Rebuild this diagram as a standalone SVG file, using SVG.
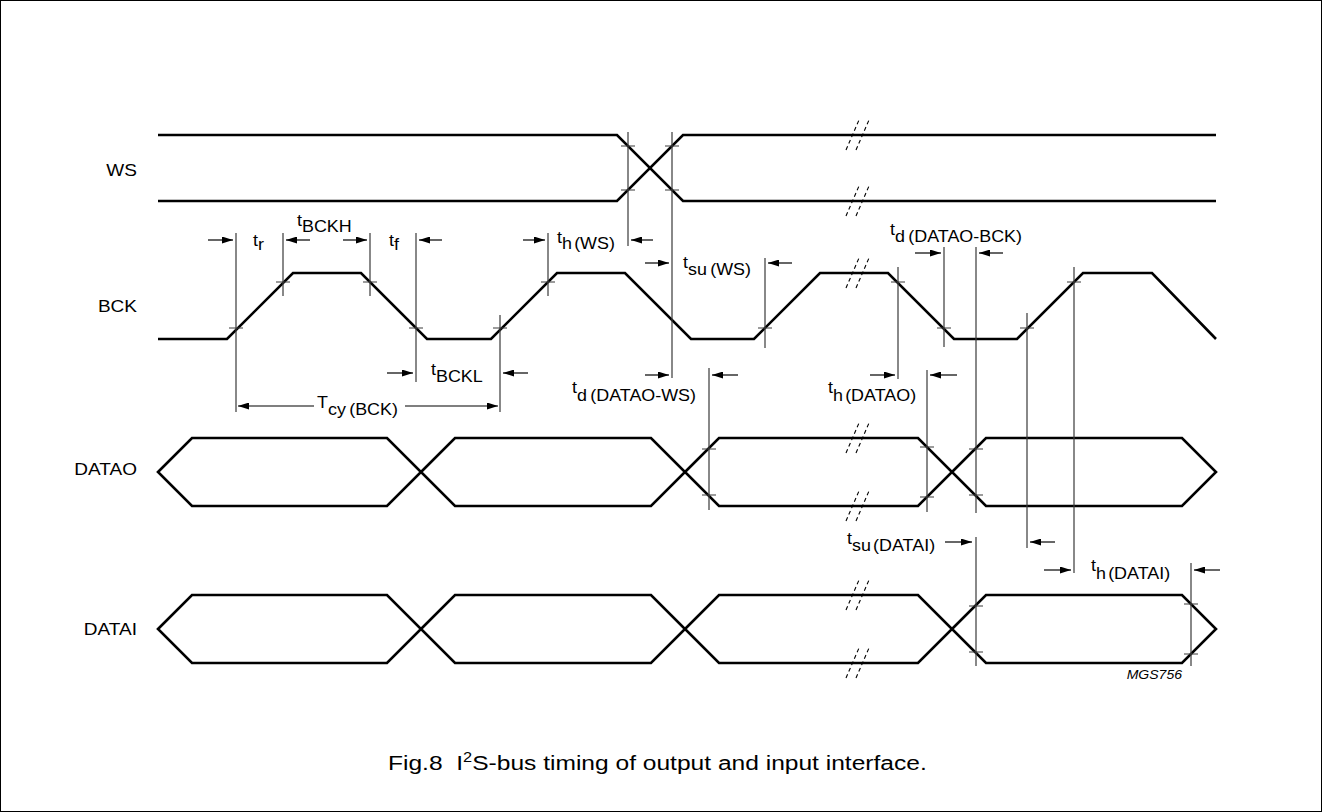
<svg xmlns="http://www.w3.org/2000/svg" width="1322" height="812" viewBox="0 0 1322 812">
<style>
.sig{fill:none;stroke:#000;stroke-width:2.6;stroke-linejoin:miter}
.vl{stroke:#3a3a3a;stroke-width:1.2;fill:none}
.tk{stroke:#3a3a3a;stroke-width:1.2}
.ar{stroke:#000;stroke-width:1.2;fill:none;marker-end:url(#ah)}
.brk{stroke:#000;stroke-width:1.1;stroke-dasharray:4 3;fill:none}
.nm{font-family:"Liberation Sans",Arial,sans-serif;font-size:17px;text-anchor:end;fill:#000}
.tl{font-family:"Liberation Sans",Arial,sans-serif;font-size:16px;fill:#000}
.cap{font-family:"Liberation Sans",Arial,sans-serif;font-size:21px;fill:#000;white-space:pre}
.code{font-family:"Liberation Sans",Arial,sans-serif;font-size:13px;font-style:italic;text-anchor:end;fill:#000}
</style>
<defs>
<marker id="ah" viewBox="0 0 11 7" refX="11" refY="3.5" markerWidth="11" markerHeight="7" markerUnits="userSpaceOnUse" orient="auto">
<path d="M0,0 L11,3.5 L0,7 z" fill="#000"/>
</marker>
</defs>
<rect x="0.5" y="0.5" width="1321" height="811" fill="#fff" stroke="#000" stroke-width="1"/>

<g id="WS">
<text class="nm" transform="translate(137,176) scale(1.12,1)">WS</text>
<path class="sig" d="M158,135 H617 L683,201 H1216"/>
<path class="sig" d="M158,201 H617 L683,135 H1216"/>
</g>

<g id="BCK">
<text class="nm" transform="translate(137,312) scale(1.12,1)">BCK</text>
<path class="sig" d="M158,339 H227 L293,273 H361 L427,339 H491 L557,273 H625 L691,339 H754 L820,273 H888 L954,339 H1017 L1083,273 H1152 L1216,339"/>
</g>

<g id="DATAO">
<text class="nm" transform="translate(137,475) scale(1.12,1)">DATAO</text>
<path class="sig" d="M158,472 L192,438 H387 L421,472 L387,506 H192 Z"/>
<path class="sig" d="M421,472 L455,438 H651 L685,472 L651,506 H455 Z"/>
<path class="sig" d="M685,472 L719,438 H918 L952,472 L918,506 H719 Z"/>
<path class="sig" d="M952,472 L986,438 H1182 L1216,472 L1182,506 H986 Z"/>
</g>

<g id="DATAI">
<text class="nm" transform="translate(137,635) scale(1.12,1)">DATAI</text>
<path class="sig" d="M158,629 L192,595 H387 L421,629 L387,663 H192 Z"/>
<path class="sig" d="M421,629 L455,595 H651 L685,629 L651,663 H455 Z"/>
<path class="sig" d="M685,629 L719,595 H918 L952,629 L918,663 H719 Z"/>
<path class="sig" d="M952,629 L986,595 H1182 L1216,629 L1182,663 H986 Z"/>
</g>

<g id="breaks">
<path class="brk" d="M846,150 L859,120 M856,150 L869,120"/>
<path class="brk" d="M846,216 L859,186 M856,216 L869,186"/>
<path class="brk" d="M846,288 L859,258 M856,288 L869,258"/>
<path class="brk" d="M846,453 L859,423 M856,453 L869,423"/>
<path class="brk" d="M846,521 L859,491 M856,521 L869,491"/>
<path class="brk" d="M846,610 L859,580 M856,610 L869,580"/>
<path class="brk" d="M846,678 L859,648 M856,678 L869,648"/>
</g>

<g id="connectors">
<g id="reference-lines">
<path class="vl" d="M236,233 V412 M283,233 V296 M370,233 V296 M416,233 V382 M500,315 V412 M548,233 V296
M628,132 V246 M672,132 V378 M765,258 V348 M709,368 V510 M898,267 V379 M927,370 V512
M944,247 V347 M976,247 V513 M976,537 V666 M1027,313 V548 M1074,267 V573 M1191,563 V666"/>
</g>
<g id="ticks">
<path class="tk" d="M621,146 H635 M621,190 H635 M665,146 H679 M665,190 H679
M229,328 H243 M276,282 H290 M363,282 H377 M409,328 H423 M493,328 H507 M541,282 H555
M758,328 H772 M891,282 H905 M937,328 H951 M1020,328 H1034 M1067,282 H1081
M702,449 H716 M702,495 H716 M920,447 H934 M920,497 H934 M969,449 H983 M969,495 H983
M969,606 H983 M969,652 H983 M1184,604 H1198 M1184,654 H1198"/>
</g>
<g id="arrows">
<line class="ar" x1="208" y1="240" x2="233" y2="240"/>
<line class="ar" x1="310" y1="240" x2="286" y2="240"/>
<line class="ar" x1="343" y1="240" x2="367" y2="240"/>
<line class="ar" x1="442" y1="240" x2="419" y2="240"/>
<line class="ar" x1="523" y1="240" x2="545" y2="240"/>
<line class="ar" x1="653" y1="240" x2="631" y2="240"/>
<line class="ar" x1="645" y1="263" x2="669" y2="263"/>
<line class="ar" x1="792" y1="263" x2="768" y2="263"/>
<line class="ar" x1="915" y1="253" x2="941" y2="253"/>
<line class="ar" x1="1003" y1="253" x2="979" y2="253"/>
<line class="ar" x1="387" y1="373" x2="413" y2="373"/>
<line class="ar" x1="528" y1="373" x2="503" y2="373"/>
<line class="ar" x1="645" y1="375" x2="669" y2="375"/>
<line class="ar" x1="738" y1="375" x2="712" y2="375"/>
<line class="ar" x1="870" y1="375" x2="895" y2="375"/>
<line class="ar" x1="957" y1="375" x2="930" y2="375"/>
<line class="ar" x1="314" y1="406" x2="238" y2="406"/>
<line class="ar" x1="405" y1="406" x2="498" y2="406"/>
<line class="ar" x1="945" y1="542" x2="972" y2="542"/>
<line class="ar" x1="1055" y1="542" x2="1030" y2="542"/>
<line class="ar" x1="1044" y1="570" x2="1071" y2="570"/>
<line class="ar" x1="1220" y1="570" x2="1194" y2="570"/>
</g>
</g>

<g id="timing-labels">
<text class="tl" transform="translate(253,246) scale(1.12,1)">t<tspan dy="4">r</tspan></text>
<text class="tl" transform="translate(297,226) scale(1.12,1)">t<tspan dy="6">BCKH</tspan></text>
<text class="tl" transform="translate(389,246) scale(1.12,1)">t<tspan dy="4">f</tspan></text>
<text class="tl" transform="translate(557,243) scale(1.12,1)">t<tspan dy="6">h</tspan><tspan dx="2">(WS)</tspan></text>
<text class="tl" transform="translate(683,268) scale(1.12,1)">t<tspan dy="7">su</tspan><tspan dx="3">(WS)</tspan></text>
<text class="tl" transform="translate(890,235) scale(1.12,1)">t<tspan dy="7">d</tspan><tspan dx="3">(DATAO-BCK)</tspan></text>
<text class="tl" transform="translate(431,375) scale(1.12,1)">t<tspan dy="7">BCKL</tspan></text>
<text class="tl" transform="translate(317,408) scale(1.12,1)">T<tspan dy="7">cy</tspan><tspan dx="3">(BCK)</tspan></text>
<text class="tl" transform="translate(572,393) scale(1.12,1)">t<tspan dy="8">d</tspan><tspan dx="3">(DATAO-WS)</tspan></text>
<text class="tl" transform="translate(828,393) scale(1.12,1)">t<tspan dy="8">h</tspan><tspan dx="2">(DATAO)</tspan></text>
<text class="tl" transform="translate(847,544) scale(1.12,1)">t<tspan dy="7">su</tspan><tspan dx="2">(DATAI)</tspan></text>
<text class="tl" transform="translate(1091,571) scale(1.12,1)">t<tspan dy="8">h</tspan><tspan dx="2">(DATAI)</tspan></text>
</g>

<text class="code" transform="translate(1182,679) scale(1.08,1)">MGS756</text>

<text class="cap" xml:space="preserve" transform="translate(388,770) scale(1.17,1)">Fig.8  I<tspan dy="-8" font-size="14">2</tspan><tspan dy="8">S-bus timing of output and input interface.</tspan></text>
</svg>
